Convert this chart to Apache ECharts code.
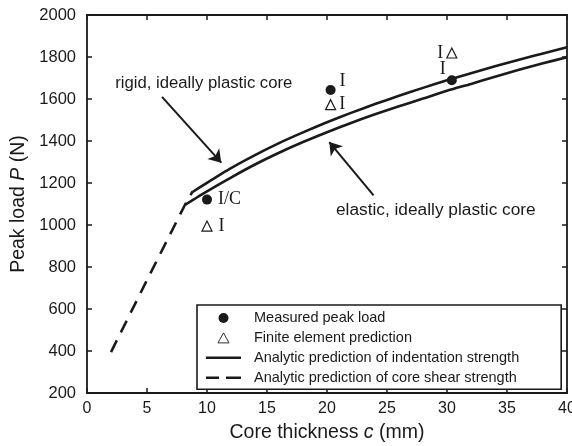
<!DOCTYPE html>
<html>
<head>
<meta charset="utf-8">
<script src="https://cdn.jsdelivr.net/npm/echarts@6/dist/echarts.min.js"></script>
<style>
  html, body { margin: 0; padding: 0; background: #fff; }
  #chart { width: 572px; height: 446px; }
</style>
</head>
<body>
<div id="chart"></div>
<script>
// Axis ticks
const xTicks = [0, 5, 10, 15, 20, 25, 30, 35, 40];
const yTicks = [200, 400, 600, 800, 1000, 1200, 1400, 1600, 1800, 2000];

// Measured peak loads and their failure-mode tags
const measuredC = [10, 20.3, 30.4];
const measuredP = [1121, 1643, 1689];
const measuredTag = ['I/C', 'I', 'I'];

// Finite element predictions and tags
const feC = [10, 20.3, 30.4];
const feP = [995, 1573, 1819];
const feTag = ['I', 'I', 'I'];

// Analytic indentation strength: rigid, ideally plastic core
const rigidC = [8.8, 10, 12, 14, 16, 18, 20, 22, 24, 26, 28, 30, 32, 34, 36, 38, 40];
const rigidP = [1157, 1201, 1271, 1333, 1390, 1441, 1489, 1534, 1576, 1615, 1653, 1689, 1723, 1756, 1787, 1817, 1846];

// Analytic indentation strength: elastic, ideally plastic core
const elasticC = [8.2, 10, 12, 14, 16, 18, 20, 22, 24, 26, 28, 30, 32, 34, 36, 38, 40];
const elasticP = [1097, 1160, 1226, 1288, 1344, 1395, 1442, 1486, 1527, 1565, 1602, 1639, 1672, 1706, 1739, 1770, 1799];

// Analytic core shear strength
const shearC = [2, 5, 8.2, 8.8];
const shearP = [395, 738, 1100, 1160];

const INK = '#1a1a1a';
const SANS = 'Liberation Sans, Arial, Helvetica, sans-serif';
const SERIF = 'Liberation Serif, Times New Roman, serif';

const zip = (a, b) => a.map((v, i) => [v, b[i]]);

// label placement for each tag, relative to its marker
const measuredLabelPos = [
  { position: 'right', distance: 6, offset: [0, 0] },
  { position: 'right', distance: 4, offset: [0, -9] },
  { position: 'top', distance: 1, offset: [-9, 4] }
];
const feLabelPos = [
  { position: 'right', distance: 6, offset: [0, 0] },
  { position: 'right', distance: 3, offset: [0, 0] },
  { position: 'left', distance: 3, offset: [0, 0] }
];

const tagLabel = (text, p) => ({
  show: true,
  formatter: text,
  position: p.position,
  distance: p.distance,
  offset: p.offset,
  fontFamily: SERIF,
  fontSize: 18,
  color: INK,
  opacity: 1
});

const measuredData = measuredC.map((c, i) => ({
  value: [c, measuredP[i]],
  label: tagLabel(measuredTag[i], measuredLabelPos[i])
}));
const feData = feC.map((c, i) => ({
  value: [c, feP[i]],
  label: tagLabel(feTag[i], feLabelPos[i])
}));

const baseAxis = {
  axisLine: { show: true, onZero: false, lineStyle: { color: INK, width: 1.8 } },
  axisTick: { show: true, inside: true, length: 5, lineStyle: { color: INK, width: 1.5 } },
  splitLine: { show: false }
};
const plainNumber = v => String(v);

// legend glyphs: a bar for the solid line, two bars for the dashed one, an open triangle
const solidIcon = 'path://M0,0L35,0L35,2.6L0,2.6Z';
const dashedIcon = 'path://M0,0L13,0L13,2.6L0,2.6Z M20,0L35,0L35,2.6L20,2.6Z';
const triangleIcon = 'path://M5,0L10,9L0,9Z';

const chart = echarts.init(document.getElementById('chart'), null, { renderer: 'canvas' });

chart.setOption({
  animation: false,
  backgroundColor: '#ffffff',
  grid: { left: 87, right: 5, top: 15, bottom: 53, containLabel: false, outerBoundsMode: 'none' },
  xAxis: [
    Object.assign({}, baseAxis, {
      type: 'value', position: 'bottom',
      min: xTicks[0], max: xTicks[xTicks.length - 1], interval: xTicks[1] - xTicks[0],
      axisLabel: { fontFamily: SANS, fontSize: 16, color: INK, margin: 8, formatter: plainNumber },
      name: 'Core thickness {i|c} (mm)',
      nameLocation: 'middle',
      nameGap: 30,
      nameTextStyle: {
        fontFamily: SANS, fontSize: 19.5, color: INK,
        rich: { i: { fontFamily: SANS, fontSize: 19.5, fontStyle: 'italic', color: INK } }
      }
    }),
    Object.assign({}, baseAxis, {
      type: 'value', position: 'top',
      min: xTicks[0], max: xTicks[xTicks.length - 1], interval: xTicks[1] - xTicks[0],
      axisLabel: { show: false }
    })
  ],
  yAxis: [
    Object.assign({}, baseAxis, {
      type: 'value', position: 'left',
      min: yTicks[0], max: yTicks[yTicks.length - 1], interval: yTicks[1] - yTicks[0],
      axisLabel: { fontFamily: SANS, fontSize: 16.5, color: INK, margin: 11, formatter: plainNumber },
      name: 'Peak load {i|P} (N)',
      nameLocation: 'middle',
      nameGap: 53,
      nameTextStyle: {
        fontFamily: SANS, fontSize: 19.5, color: INK,
        rich: { i: { fontFamily: SANS, fontSize: 19.5, fontStyle: 'italic', color: INK } }
      }
    }),
    Object.assign({}, baseAxis, {
      type: 'value', position: 'right',
      min: yTicks[0], max: yTicks[yTicks.length - 1], interval: yTicks[1] - yTicks[0],
      axisLabel: { show: false }
    })
  ],
  legend: {
    orient: 'vertical',
    left: 197,
    top: 305,
    data: [
      { name: 'Measured peak load', icon: 'circle' },
      {
        name: 'Finite element prediction', icon: triangleIcon,
        itemStyle: { color: '#fff', borderColor: INK, borderWidth: 0.9 }
      },
      { name: 'Analytic prediction of indentation strength', icon: solidIcon },
      { name: 'Analytic prediction of core shear strength', icon: dashedIcon }
    ],
    itemWidth: 35,
    itemHeight: 10,
    itemGap: 4.9,
    symbolKeepAspect: true,
    padding: [5.5, 42, 4, 9],
    borderColor: INK,
    borderWidth: 1.6,
    backgroundColor: '#fff',
    selectedMode: false,
    textStyle: { fontFamily: SANS, fontSize: 14.5, color: INK, padding: [0, 0, 0, 8] }
  },
  series: [
    {
      name: 'Analytic prediction of indentation strength',
      type: 'line',
      data: zip(rigidC, rigidP),
      smooth: 0.2,
      showSymbol: false,
      symbol: 'none',
      lineStyle: { color: INK, width: 2.6 },
      itemStyle: { color: INK },
      z: 3
    },
    {
      name: 'Analytic prediction of indentation strength',
      type: 'line',
      data: zip(elasticC, elasticP),
      smooth: 0.2,
      showSymbol: false,
      symbol: 'none',
      lineStyle: { color: INK, width: 2.6 },
      itemStyle: { color: INK },
      z: 3
    },
    {
      name: 'Analytic prediction of core shear strength',
      type: 'line',
      data: zip(shearC, shearP),
      showSymbol: false,
      symbol: 'none',
      lineStyle: { color: INK, width: 2.6, type: [13, 9] },
      itemStyle: { color: INK },
      z: 3
    },
    {
      name: 'Measured peak load',
      type: 'scatter',
      data: measuredData,
      symbol: 'circle',
      symbolSize: 10,
      itemStyle: { color: INK, opacity: 1 },
      z: 5
    },
    {
      name: 'Finite element prediction',
      type: 'scatter',
      data: feData,
      symbol: 'triangle',
      symbolSize: 10,
      itemStyle: { color: '#fff', borderColor: INK, borderWidth: 1.2, opacity: 1 },
      z: 5
    },
    {
      // callout texts with their arrows
      name: 'notes',
      type: 'scatter',
      silent: true,
      symbolSize: 0,
      itemStyle: { opacity: 1 },
      data: [
        { name: 'rigid, ideally plastic core', value: [9.73, 1673], label: { fontSize: 16.7 } },
        { name: 'elastic, ideally plastic core', value: [29.07, 1070], label: { fontSize: 17.3 } }
      ],
      label: {
        show: true, position: 'inside', formatter: '{b}',
        fontFamily: SANS, fontSize: 17, color: INK, opacity: 1
      },
      markLine: {
        silent: true,
        symbol: ['none', 'arrow'],
        symbolSize: 12,
        lineStyle: { color: INK, width: 2, type: 'solid', opacity: 1 },
        itemStyle: { color: INK },
        label: { show: false },
        data: [
          [{ coord: [6.25, 1610] }, { coord: [11.19, 1297] }],
          [{ coord: [23.88, 1141] }, { coord: [20.19, 1395] }]
        ]
      },
      z: 4
    }
  ]
});
</script>
</body>
</html>
